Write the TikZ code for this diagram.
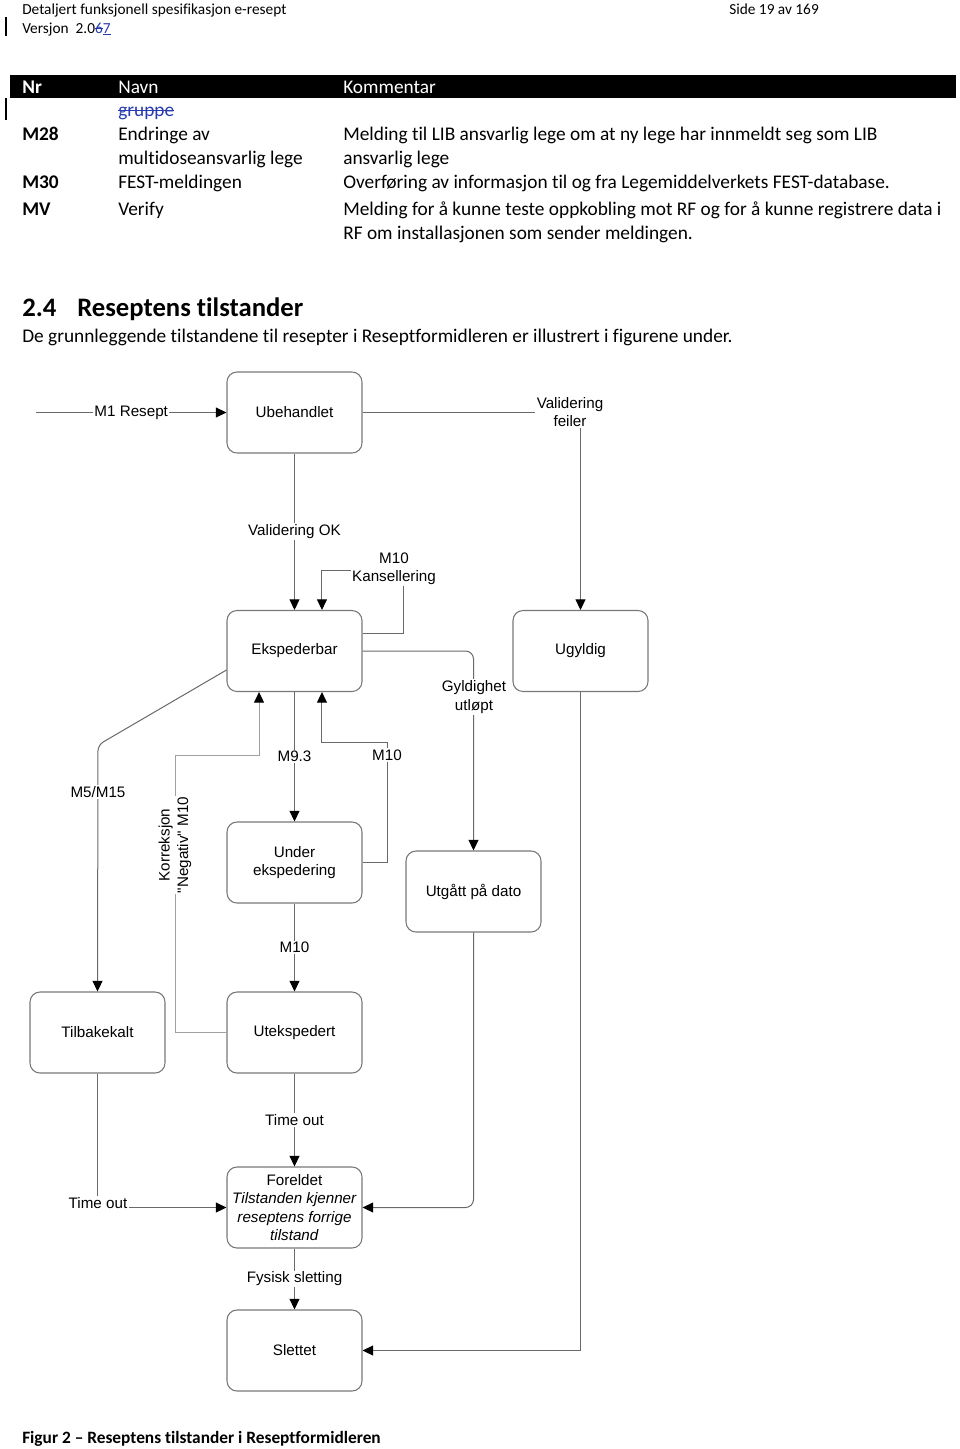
\documentclass[tikz,border=0pt]{standalone}
\usepackage{fontspec}
\setmainfont[Ligatures=NoCommon]{Carlito}
\newfontfamily\arialf{Liberation Sans}
\usetikzlibrary{arrows.meta}
\definecolor{revblue}{RGB}{40,60,175}
\definecolor{linegray}{RGB}{105,105,105}
\definecolor{boxgray}{RGB}{120,120,120}
\definecolor{lightln}{RGB}{160,160,160}
\newcommand\myBody{\fontsize{14.5}{17}\selectfont}
\newcommand\myHead{\fontsize{11.5}{13}\selectfont}
\newcommand\myDia{\arialf\fontsize{11.4}{13.8}\selectfont}
\newcommand\mystrk[1]{\setbox0=\hbox{#1}\rlap{\rule[.27em]{\wd0}{.06em}}\box0}
\newcommand\myundl[1]{\setbox0=\hbox{#1}\rlap{\rule[-.14em]{\wd0}{.06em}}\box0}
\begin{document}
\begin{tikzpicture}[x=0.75pt,y=-0.75pt,
  box/.style={draw=boxgray, line width=0.8pt, rounded corners=7.5pt, minimum width=101.25pt, minimum height=60.75pt, inner sep=0pt, align=center, font=\myDia},
  conn/.style={draw=linegray, line width=0.75pt, -{Triangle[length=8pt,width=7.5pt,color=black]}},
  lbl/.style={fill=white, inner sep=1pt, align=center, font=\myDia},
  txt/.style={anchor=base west, inner sep=0pt, font=\myBody},
  htxt/.style={anchor=base west, inner sep=0pt, font=\myHead},
]
\fill[white] (0,0) rectangle (960,1449);
\useasboundingbox (0,0) rectangle (960,1449);

% page header
\node[htxt] (h1) at (22,14) {Detaljert funksjonell spesifikasjon e-resept};
\node[htxt] (h2) at (22,33) {Versjon\ \ 2.0\textcolor{revblue}{\mystrk{6}\myundl{7}}};
\node[htxt] (h3) at (729,14) {Side 19 av 169};
\draw[line width=0.8pt] (6,17) -- (6,36);
\draw[line width=0.8pt] (6,98) -- (6,120);

% table
\fill[black] (10,75) rectangle (956,98);
\node[txt, text=white, font=\myBody\bfseries] (tnr) at (22,93) {Nr};
\node[txt, text=white] (tnavn) at (118,93) {Navn};
\node[txt, text=white] (tkom) at (343,93) {Kommentar};
\node[txt, text=revblue] (tg) at (118,116) {\mystrk{gruppe}};
\node[txt, font=\myBody\bfseries] (r1) at (22,140) {M28};
\node[txt] (r1b) at (118,140) {Endringe av};
\node[txt] (r1c) at (118,164) {multidoseansvarlig lege};
\node[txt] (r1d) at (343,140) {Melding til LIB ansvarlig lege om at ny lege har innmeldt seg som LIB};
\node[txt] (r1e) at (343,164) {ansvarlig lege};
\node[txt, font=\myBody\bfseries] (r2) at (22,188) {M30};
\node[txt] (r2b) at (118,188) {FEST-meldingen};
\node[txt] (r2c) at (343,188) {Overføring av informasjon til og fra Legemiddelverkets FEST-database.};
\node[txt, font=\myBody\bfseries] (r3) at (22,215) {MV};
\node[txt] (r3b) at (118,215) {Verify};
\node[txt] (r3c) at (343,215) {Melding for å kunne teste oppkobling mot RF og for å kunne registrere data i};
\node[txt] (r3d) at (343,239) {RF om installasjonen som sender meldingen.};

% heading
\node[txt, font=\fontsize{20}{24}\selectfont\bfseries] (sec) at (22,316) {2.4};
\node[txt, font=\fontsize{20}{24}\selectfont\bfseries] (sect) at (77,316) {Reseptens tilstander};
\node[txt] (intro) at (22,342) {De grunnleggende tilstandene til resepter i Reseptformidleren er illustrert i figurene under.};

% states
\node[box] (ub) at (294.5,412.5) {Ubehandlet};
\node[box] (ek) at (294.5,651) {Ekspederbar};
\node[box] (ug) at (580.5,651) {Ugyldig};
\node[box] (ue) at (294.5,862.5) {Under\\ekspedering};
\node[box] (ut) at (473.5,891.5) {Utgått på dato};
\node[box] (tb) at (97.5,1032.5) {Tilbakekalt};
\node[box] (ux) at (294.5,1032.5) {Utekspedert};
\node[box] (fo) at (294.5,1207.5) {Foreldet\\\textit{Tilstanden kjenner}\\\textit{reseptens forrige}\\\textit{tilstand}};
\node[box] (sl) at (294.5,1350.5) {Slettet};

% connectors
\coordinate (m1) at (36,412.5);
\draw[conn] (m1) -- (ub.west) node[lbl, pos=0.5] {M1 Resept};
\draw[conn] (ub.east) -| (ug.north);
\node[lbl] (vf) at (570,412) {Validering\\feiler};
\draw[conn] (ub.south) -- (ek.north) node[lbl, pos=0.5] {Validering OK};
\draw[conn] ([yshift=13.5pt]ek.east) -| (403,570) -| ([xshift=20.6pt]ek.north);
\node[lbl] (kans) at (394,569) {M10\\Kansellering};
\draw[conn, rounded corners=6pt] (ek.east) -| (ut.north);
\node[lbl] (gu) at (474,697) {Gyldighet\\utløpt};
\draw[conn] (ek.south) -- (ue.north) node[lbl, pos=0.5] {M9.3};
\draw[conn] (ue.east) -| (387,742) -| ([xshift=20.6pt]ek.south);
\node[lbl] (m10b) at (387,755) {M10};
\draw[conn, rounded corners=4.5pt] ([yshift=-14.25pt]ek.west) -- (98,745) -- (tb.north);
\node[lbl] (m5) at (98,792) {M5/M15};
\draw[conn, draw=lightln] (ux.west) -| (175,755) -| ([xshift=-26.6pt]ek.south);
\node[lbl, rotate=90] (kor) at (175,845) {Korreksjon\\"Negativ" M10};
\draw[conn] (ue.south) -- (ux.north) node[lbl, pos=0.5] {M10};
\draw[conn] (ux.south) -- (fo.north) node[lbl, pos=0.5] {Time out};
\draw[conn] (tb.south) |- (fo.west);
\node[lbl] (to2) at (98,1203) {Time out};
\draw[conn, rounded corners=6pt] (ut.south) |- (fo.east);
\draw[conn] (fo.south) -- (sl.north) node[lbl, pos=0.5] {Fysisk sletting};
\draw[conn] (ug.south) |- (sl.east);

% caption
\node[txt, font=\fontsize{13}{15}\selectfont\bfseries] (cap) at (22,1443) {Figur 2 – Reseptens tilstander i Reseptformidleren};
\end{tikzpicture}
\end{document}
